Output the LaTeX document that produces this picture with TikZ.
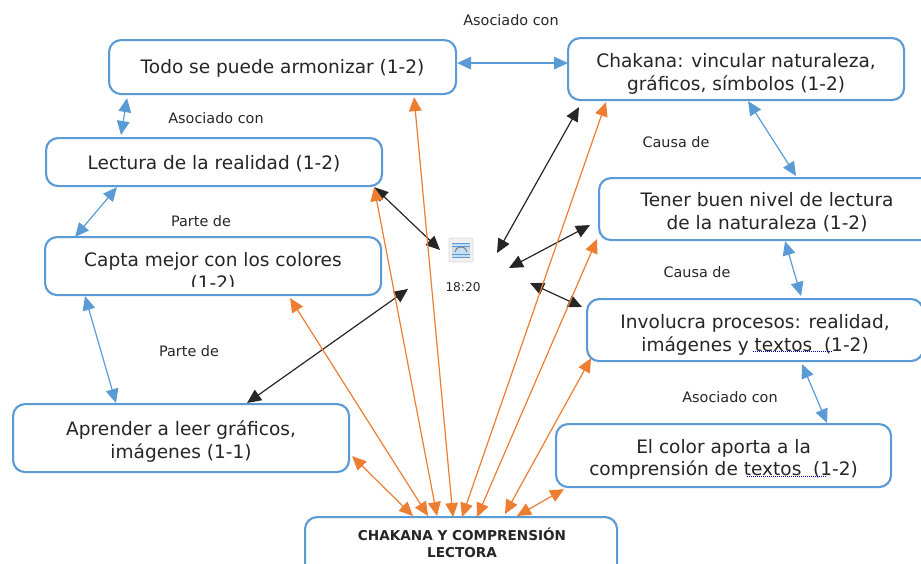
\documentclass[tikz,border=0pt]{standalone}
\usepackage{fontspec}
\setmainfont{DejaVu Sans}
\usetikzlibrary{arrows.meta}
\definecolor{boxblue}{RGB}{91,155,213}
\definecolor{linkorange}{RGB}{237,125,49}
\definecolor{inktext}{RGB}{38,38,38}
\newcommand{\lowerby}[1]{\rule{0pt}{#1}}
\tikzset{
    boxnode/.style={draw=boxblue, line width=1.6pt, rounded corners=9pt, fill=white, text=inktext,
        font=\fontsize{13.9}{17}\selectfont, align=center, anchor=north west, inner sep=0pt},
    labelnode/.style={text=inktext, font=\fontsize{10.8}{13}\selectfont, inner sep=0pt},
    tips/.style={{Triangle[length=10.5pt,width=9.5pt]}-{Triangle[length=10.5pt,width=9.5pt]}},
    bluelink/.style={boxblue, line width=0.9pt, tips},
    orangelink/.style={linkorange, line width=0.9pt, tips},
    blacklink/.style={black!85, line width=0.9pt, tips},
    spellmark/.style={blue!70!black, line width=0.5pt, densely dotted},
}
\begin{document}
\begin{tikzpicture}[x=0.75pt,y=-0.75pt]
    \useasboundingbox (0,0) rectangle (921,564);
    \clip (0,0) rectangle (921,564);
    % boxes
    \node[boxnode, minimum width=260.25pt, minimum height=40.5pt] (todo) at (108,39) {\lowerby{13pt}Todo se puede armonizar (1-2)};
    \node[boxnode, minimum width=252pt, minimum height=46.5pt] (chakana) at (567,37) {\lowerby{18pt}Chakana: vincular naturaleza,\\gráficos, símbolos (1-2)};
    \node[boxnode, minimum width=252pt, minimum height=36pt] (lectura) at (45,137) {\lowerby{13pt}Lectura de la realidad (1-2)};
    \node[boxnode, minimum width=252pt, minimum height=43.5pt] (capta) at (44,236) {};
    \node[boxnode, minimum width=252pt, minimum height=46.5pt] (tener) at (598,177) {\lowerby{15pt}Tener buen nivel de lectura\\de la naturaleza (1-2)};
    \node[boxnode, minimum width=252pt, minimum height=46.5pt] (involucra) at (586,298) {\lowerby{18pt}Involucra procesos: realidad,\\imágenes y textos\ \ (1-2)};
    \node[boxnode, minimum width=252pt, minimum height=51pt] (aprender) at (12,403) {\lowerby{16.5pt}Aprender a leer gráficos,\\imágenes (1-1)};
    \node[boxnode, minimum width=251.25pt, minimum height=47.25pt] (color) at (555,423) {\lowerby{16.5pt}El color aporta a la\\comprensión de textos\ \ (1-2)};
    \node[boxnode, minimum width=234pt, minimum height=60pt] (tema) at (304,516) {};
    % text cut off by its box
    \begin{scope}
        \clip (45,240) rectangle (381,286);
        \node[text=inktext, font=\fontsize{13.9}{17}\selectfont, align=center] (captatxt) at (213,272) {Capta mejor con los colores\\(1-2)};
    \end{scope}
    \node[text=black!85, font=\bfseries\fontsize{10.2}{13}\selectfont, align=center] (tematxt) at (462,543) {CHAKANA Y COMPRENSIÓN\\LECTORA};
    % labels
    \node[labelnode] (l1) at (511,20) {Asociado con};
    \node[labelnode] (l2) at (216,118) {Asociado con};
    \node[labelnode] (l3) at (201,221) {Parte de};
    \node[labelnode] (l4) at (189,351) {Parte de};
    \node[labelnode] (l5) at (676,142) {Causa de};
    \node[labelnode] (l6) at (697,272) {Causa de};
    \node[labelnode] (l7) at (730,397) {Asociado con};
    % spelling marks
    \draw[spellmark] (753,351) -- (833,351);
    \draw[spellmark] (747,476) -- (827,476);
    % icon
    \node[draw=black!15, fill=black!6, rounded corners=1pt, minimum width=18pt, minimum height=18pt, inner sep=0pt] (icono) at (461,250) {};
    \fill[boxblue!35] (452,243) rectangle (470,257);
    \draw[black!50, line width=0.8pt] (455,252) arc[start angle=180, end angle=0, x radius=6, y radius=-5];
    \foreach \yy in {243,246,254,257}
        \draw[boxblue, line width=0.4pt] (452,\yy) -- (470,\yy);
    \node[labelnode, font=\fontsize{9.1}{11}\selectfont] (hora) at (463,287) {18:20};
    % free ends near the icon
    \coordinate (c1) at (440,250);
    \coordinate (c2) at (497,253);
    \coordinate (c3) at (509,268);
    \coordinate (c4) at (530,283);
    \coordinate (c5) at (408,289);
    % blue links
    \draw[bluelink] ([shift={(19,3)}]todo.south west) -- ([shift={(76,-2)}]lectura.north west);
    \draw[bluelink] ([shift={(0,-4)}]todo.east) -- ([shift={(1,-6)}]chakana.west);
    \draw[bluelink] ([shift={(12,0)}]chakana.south) -- ([shift={(29,-1)}]tener.north);
    \draw[bluelink] ([shift={(72,0)}]lectura.south west) -- ([shift={(31,1)}]capta.north west);
    \draw[bluelink] ([shift={(41,0)}]capta.south west) -- ([shift={(104,0)}]aprender.north west);
    \draw[bluelink] ([shift={(18,0)}]tener.south) -- ([shift={(46,-2)}]involucra.north);
    \draw[bluelink] ([shift={(47,2)}]involucra.south) -- ([shift={(103.5,0)}]color.north);
    % black links
    \draw[blacklink] ([shift={(-9,0)}]lectura.south east) -- (c1);
    \draw[blacklink] ([shift={(12,6)}]chakana.south west) -- (c2);
    \draw[blacklink] ([shift={(-8,16)}]tener.west) -- (c3);
    \draw[blacklink] (c4) -- ([shift={(-4,9)}]involucra.north west);
    \draw[blacklink] (c5) -- ([shift={(66,0)}]aprender.north);
    % orange links
    \draw[orangelink] ([shift={(2,-17)}]aprender.south east) -- ([shift={(109,0)}]tema.north west);
    \draw[orangelink] ([shift={(77,2)}]capta.south) -- ([shift={(124,0)}]tema.north west);
    \draw[orangelink] ([shift={(-9,0)}]lectura.south east) -- ([shift={(133,0)}]tema.north west);
    \draw[orangelink] ([shift={(131.5,2)}]todo.south) -- ([shift={(149,1)}]tema.north west);
    \draw[orangelink] ([shift={(39,1)}]chakana.south west) -- ([shift={(158,1)}]tema.north west);
    \draw[orangelink] ([shift={(-1,-2)}]tener.south west) -- ([shift={(173,1)}]tema.north west);
    \draw[orangelink] ([shift={(5,-4)}]involucra.south west) -- ([shift={(201,-2)}]tema.north west);
    \draw[orangelink] ([shift={(9,1)}]color.south west) -- ([shift={(213,0)}]tema.north west);
\end{tikzpicture}
\end{document}
